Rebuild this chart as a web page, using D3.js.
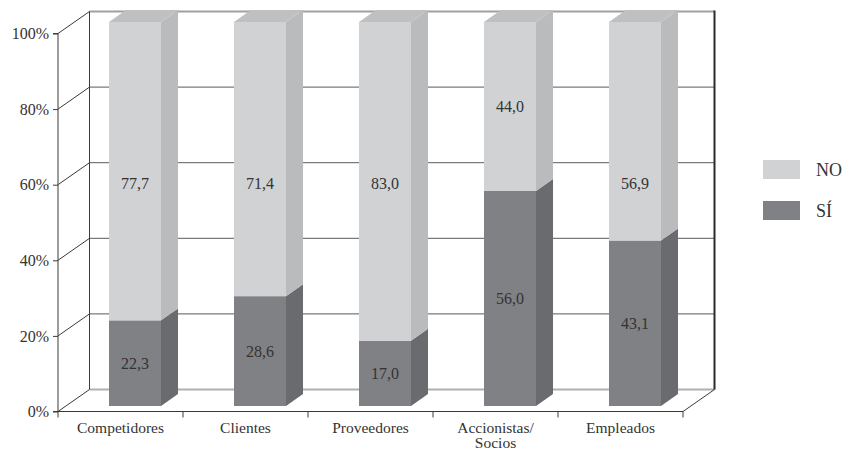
<!DOCTYPE html>
<html>
<head>
<meta charset="utf-8">
<script src="https://cdn.jsdelivr.net/npm/d3@7"></script>
<style>
  html, body { margin: 0; padding: 0; background: #fff; }
  svg text { font-family: "Liberation Serif", "Tinos", "Times New Roman", "DejaVu Serif", serif; fill: #333; }
</style>
</head>
<body>
<svg id="chart" width="850" height="450"></svg>
<script>
// Categories and stacked percentages (SÍ at the bottom, NO on top)
const categories = ["Competidores", "Clientes", "Proveedores", "Accionistas/\nSocios", "Empleados"];
const siValues = [22.3, 28.6, 17.0, 56.0, 43.1];
const noValues = [77.7, 71.4, 83.0, 44.0, 56.9];
const yTickValues = [0, 20, 40, 60, 80, 100];
const seriesNames = ["NO", "SÍ"];

const FONT = '"Liberation Serif", "Tinos", "Times New Roman", "DejaVu Serif", serif';

const colors = {
  NO: { front: "#d1d2d4", side: "#babbbd", top: "#bfc0c2" },
  "SÍ": { front: "#808184", side: "#6a6b6e" }
};

const svg = d3.select("#chart");

// Oblique projection: the back wall is shifted right and up from the front plane
const DEPTH_X = 31.5, DEPTH_Y = -22;

const x = d3.scaleBand().domain(categories).range([58, 683]).padding(0);
const yWall = d3.scaleLinear().domain([0, 100]).range([411.5, 33.5]);
// Bars stand a quarter of the way into the box; their front face uses its own scale
const barDepthFront = 0.25, barDepth = 0.54;
const yBar = d3.scaleLinear().domain([0, 100]).range([406, 22]);
const bw = x.bandwidth();
const barLeft = c => x(c) + DEPTH_X * barDepthFront + bw * 0.345;
const barW = bw * 0.416;
const sideDX = DEPTH_X * barDepth, sideDY = DEPTH_Y * barDepth;

const x0 = x.range()[0], x1 = x.range()[1];
const walls = svg.append("g");

// Back wall gridlines
walls.selectAll("line.grid")
  .data(yTickValues.filter(v => v > 0 && v < 100))
  .join("line")
  .attr("x1", x0 + DEPTH_X).attr("x2", x1 + DEPTH_X)
  .attr("y1", v => yWall(v) + DEPTH_Y).attr("y2", v => yWall(v) + DEPTH_Y)
  .attr("stroke", "#5a5a5a").attr("stroke-width", 1);

// Back wall top edge and floor back edge
walls.append("line")
  .attr("x1", x0 + DEPTH_X).attr("x2", x1 + DEPTH_X)
  .attr("y1", yWall(100) + DEPTH_Y).attr("y2", yWall(100) + DEPTH_Y)
  .attr("stroke", "#a0a0a0").attr("stroke-width", 2);
walls.append("line")
  .attr("x1", x0 + DEPTH_X).attr("x2", x1 + DEPTH_X)
  .attr("y1", yWall(0) + DEPTH_Y).attr("y2", yWall(0) + DEPTH_Y)
  .attr("stroke", "#b0b0b0").attr("stroke-width", 2);

// Back wall side edges
walls.append("line")
  .attr("x1", x0 + DEPTH_X).attr("x2", x0 + DEPTH_X)
  .attr("y1", yWall(100) + DEPTH_Y).attr("y2", yWall(0) + DEPTH_Y)
  .attr("stroke", "#3a3a3a").attr("stroke-width", 1);
walls.append("line")
  .attr("x1", x1 + DEPTH_X).attr("x2", x1 + DEPTH_X)
  .attr("y1", yWall(100) + DEPTH_Y - 1).attr("y2", yWall(0) + DEPTH_Y)
  .attr("stroke", "#2a2a2a").attr("stroke-width", 2);

// Side wall diagonals at each tick
walls.selectAll("line.diag")
  .data(yTickValues)
  .join("line")
  .attr("x1", x0).attr("x2", x0 + DEPTH_X)
  .attr("y1", v => yWall(v)).attr("y2", v => yWall(v) + DEPTH_Y)
  .attr("stroke", "#3a3a3a").attr("stroke-width", 1);

// Floor: front edge and right diagonal
walls.append("line")
  .attr("x1", x0).attr("x2", x1)
  .attr("y1", yWall(0)).attr("y2", yWall(0))
  .attr("stroke", "#3a3a3a").attr("stroke-width", 1);
walls.append("line")
  .attr("x1", x1).attr("x2", x1 + DEPTH_X)
  .attr("y1", yWall(0)).attr("y2", yWall(0) + DEPTH_Y)
  .attr("stroke", "#3a3a3a").attr("stroke-width", 1);

// Front value axis
const yAxis = d3.axisLeft(yWall)
  .tickValues(yTickValues)
  .tickFormat(d => d + "%")
  .tickSize(5)
  .tickPadding(4);
const yAxisG = svg.append("g").attr("transform", `translate(${x0},0)`).call(yAxis)
  .attr("font-family", FONT);
yAxisG.select(".domain").attr("stroke", "#3a3a3a").attr("d", `M-5,${yWall(100)}H0V${yWall(0)}H-5`);
yAxisG.selectAll(".tick line").attr("stroke", "#3a3a3a");
yAxisG.selectAll(".tick text")
  .style("font-family", FONT)
  .style("font-size", "16px").attr("fill", "#333");

// Category axis: ticks at band edges, labels at band centres
const edges = categories.map(c => x(c)).concat([x1]);
svg.append("g").selectAll("line")
  .data(edges)
  .join("line")
  .attr("x1", d => d).attr("x2", d => d)
  .attr("y1", yWall(0)).attr("y2", yWall(0) + 6)
  .attr("stroke", "#3a3a3a");

const catLabels = svg.append("g").selectAll("text")
  .data(categories)
  .join("text")
  .attr("x", c => x(c) + bw / 2)
  .attr("y", yWall(0) + 21)
  .attr("text-anchor", "middle")
  .style("font-family", FONT)
  .style("font-size", "15.5px");
catLabels.each(function (c) {
  const t = d3.select(this);
  c.split("\n").forEach((line, i) => {
    t.append("tspan").attr("x", x(c) + bw / 2).attr("dy", i === 0 ? 0 : 15.5).text(line);
  });
});

// Stacked 3D bars
const rows = categories.map((c, i) => ({ c, si: siValues[i], no: noValues[i] }));
const bars = svg.append("g").selectAll("g.bar").data(rows).join("g");

function drawSegment(g, d, lo, hi, col) {
  const xl = barLeft(d.c), xr = xl + barW;
  const yt = yBar(hi), yb = yBar(lo);
  g.append("rect")
    .attr("x", xl).attr("y", yt).attr("width", barW).attr("height", yb - yt)
    .attr("fill", col.front);
  g.append("path")
    .attr("d", `M${xr},${yt}L${xr + sideDX},${yt + sideDY}L${xr + sideDX},${yb + sideDY}L${xr},${yb}Z`)
    .attr("fill", col.side);
}

bars.each(function (d) {
  const g = d3.select(this);
  drawSegment(g, d, 0, d.si, colors["SÍ"]);
  drawSegment(g, d, d.si, d.si + d.no, colors.NO);
  const xl = barLeft(d.c), xr = xl + barW, yt = yBar(d.si + d.no);
  g.append("path")
    .attr("d", `M${xl},${yt}L${xr},${yt}L${xr + sideDX},${yt + sideDY}L${xl + sideDX},${yt + sideDY}Z`)
    .attr("fill", colors.NO.top);
});

// Value labels with comma decimals
const fmt = d3.formatLocale({ decimal: ",", thousands: ".", grouping: [3], currency: ["", "€"] }).format(".1f");
// NO labels share one row unless the segment is too short, then they are centred in it
const noRow = 58;
const noLabelAt = d => (d.si + 5 < noRow ? noRow : d.si + d.no / 2);

bars.append("text")
  .attr("x", d => barLeft(d.c) + barW / 2)
  .attr("y", d => yBar(d.si / 2))
  .attr("dy", "0.35em")
  .attr("text-anchor", "middle")
  .style("font-family", FONT)
  .style("font-size", "16px")
  .text(d => fmt(d.si));
bars.append("text")
  .attr("x", d => barLeft(d.c) + barW / 2)
  .attr("y", d => yBar(noLabelAt(d)))
  .attr("dy", "0.35em")
  .attr("text-anchor", "middle")
  .style("font-family", FONT)
  .style("font-size", "16px")
  .text(d => fmt(d.no));

// Legend
const legend = svg.append("g").selectAll("g").data(seriesNames).join("g")
  .attr("transform", (d, i) => `translate(763,${160 + i * 41})`);
legend.append("rect")
  .attr("width", 37).attr("height", 19)
  .attr("fill", d => colors[d].front);
legend.append("text")
  .attr("x", 53).attr("y", 10).attr("dy", "0.35em")
  .style("font-family", FONT)
  .style("font-size", "18px")
  .text(d => d);
</script>
</body>
</html>
